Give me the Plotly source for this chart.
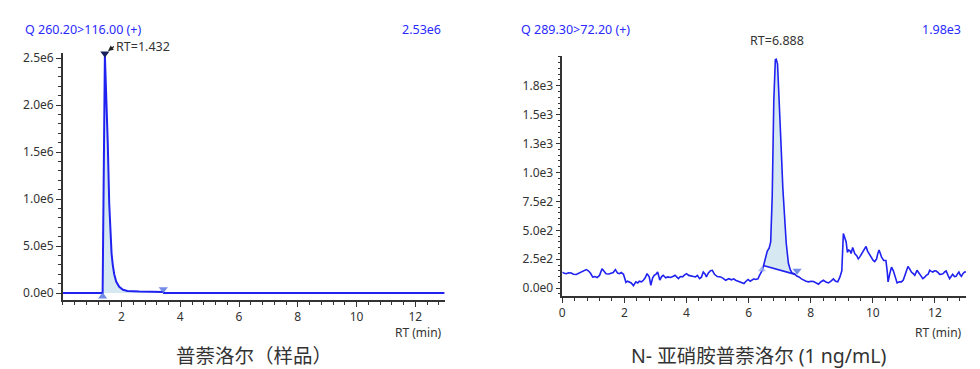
import plotly.graph_objects as go

W, H = 980, 369

# ---------------- data ----------------
# Left: 普萘洛尔 (样品), Q 260.20>116.00
left_rt = [0, 1.355, 1.432, 1.46, 1.50, 1.53, 1.58, 1.62, 1.66, 1.70, 1.75, 1.82, 1.92,
           2.05, 2.2, 2.6, 3.0, 3.42, 3.44, 13]
left_int = [0, 0, 2.53e6, 2.3e6, 1.95e6, 1.6e6, 0.95e6, 0.62e6, 0.42e6, 0.3e6, 0.2e6, 0.12e6,
            0.066e6, 0.035e6, 0.022e6, 0.015e6, 0.013e6, 0.011e6, 0, 0]
left_peak = (1.432, 2.55e6)
left_int_start = (1.355, -3.8e4)
left_int_end = (3.42, 4.0e4)
left_yticks = [0, 5e5, 1e6, 1.5e6, 2e6, 2.5e6]
left_yticktext = ["0.0e0", "5.0e5", "1.0e6", "1.5e6", "2.0e6", "2.5e6"]
left_xticks = [2, 4, 6, 8, 10, 12]

# Right: N-亚硝胺普萘洛尔 (1 ng/mL), Q 289.30>72.20
right_rt = [0.00,0.06,0.13,0.20,0.29,0.36,0.45,0.52,0.60,0.68,0.77,0.84,0.91,0.98,1.05,1.12,1.20,1.28,
            1.35,1.41,1.50,1.57,1.64,1.71,1.78,1.84,1.90,1.97,2.05,2.10,2.16,2.22,2.29,2.37,2.43,2.48,
            2.55,2.61,2.67,2.73,2.80,2.85,2.91,2.96,3.02,3.07,3.14,3.20,3.25,3.33,3.40,3.49,3.56,3.63,
            3.69,3.74,3.80,3.87,3.94,4.00,4.07,4.13,4.21,4.29,4.35,4.42,4.48,4.54,4.60,4.64,4.70,4.77,
            4.83,4.90,4.99,5.05,5.10,5.18,5.26,5.31,5.36,5.45,5.52,5.58,5.66,5.72,5.79,5.85,5.90,5.98,
            6.05,6.11,6.17,6.22,6.30,6.35,6.40,6.45,6.50,6.55,6.60,6.66,6.71,6.76,6.81,6.86,6.888,6.93,
            6.99,7.05,7.10,7.15,7.21,7.28,7.34,7.40,7.47,7.55,7.62,7.70,7.77,7.85,7.93,8.01,8.09,8.17,
            8.25,8.33,8.41,8.49,8.57,8.65,8.73,8.80,8.87,8.94,9.00,9.05,9.10,9.14,9.18,9.22,9.26,9.30,
            9.35,9.42,9.48,9.53,9.58,9.64,9.70,9.78,9.83,9.88,9.94,10.01,10.06,10.12,10.16,10.20,10.24,
            10.28,10.35,10.42,10.46,10.49,10.54,10.60,10.66,10.71,10.78,10.85,10.92,10.98,11.03,11.08,
            11.13,11.19,11.24,11.30,11.35,11.42,11.48,11.53,11.61,11.67,11.72,11.78,11.83,11.88,11.93,
            11.98,12.04,12.10,12.15,12.21,12.26,12.31,12.36,12.42,12.47,12.52,12.57,12.63,12.68,12.73,
            12.77,12.81,12.85,12.90,12.95,13.00]
right_int = [139,128,125,133,131,120,118,128,140,145,160,150,128,95,100,92,110,168,
             140,125,122,128,135,160,130,125,135,120,50,60,55,45,22,55,45,60,
             55,68,90,125,97,25,90,110,120,139,70,100,111,90,97,92,100,111,
             95,82,100,97,115,125,110,105,100,97,110,82,95,139,120,97,130,150,
             154,120,100,97,97,85,68,75,82,72,80,68,60,55,50,40,55,75,
             60,72,80,75,80,110,140,160,215,280,320,345,400,800,1620,1975,1980,1940,
             1630,1200,870,640,390,215,160,130,125,105,97,80,68,60,54,60,57,45,
             34,55,68,52,45,60,80,60,54,97,150,472,440,400,310,330,324,300,
             352,296,280,253,270,296,330,361,320,296,280,239,230,253,300,330,300,
             267,240,239,150,54,120,182,150,111,45,55,54,70,111,150,
             188,165,139,125,111,154,130,111,82,95,111,120,154,145,139,
             150,148,135,119,120,125,140,148,110,82,100,119,100,102,125,
             139,115,102,125,139,140]
right_peak = (6.888, 2010)
right_base_start = (6.47, 196)
right_base_end = (7.50, 119)
right_int_start = (6.43, 160)
right_int_end = (7.56, 150)
right_yticks = [0, 250, 500, 750, 1000, 1250, 1500, 1750]
right_yticktext = ["0.0e0", "2.5e2", "5.0e2", "7.5e2", "1.0e3", "1.3e3", "1.5e3", "1.8e3"]
right_xticks = [0, 2, 4, 6, 8, 10, 12]

# ---------------- style ----------------
BLUE = "#1f22f0"
TXT_BLUE = "#2a2aff"
FILL = "rgba(200,225,238,0.75)"
MARK = "rgba(90,120,225,0.85)"
PEAK = "#14205a"
AX = "#333333"
FONT = "Noto Sans, Noto Sans CJK SC, sans-serif"

def px(x):
    return x / W

def py(y):
    return 1 - y / H

fig = go.Figure()

# Left fill
seg_x = [x for x in left_rt if left_int_start[0] <= x <= left_int_end[0]]
seg_y = [y for x, y in zip(left_rt, left_int) if left_int_start[0] <= x <= left_int_end[0]]
fig.add_trace(go.Scatter(x=seg_x, y=seg_y, fill="tozeroy", fillcolor=FILL, mode="none",
                         xaxis="x", yaxis="y", showlegend=False, hoverinfo="skip"))
fig.add_trace(go.Scatter(x=left_rt, y=left_int, mode="lines", line=dict(color=BLUE, width=2),
                         xaxis="x", yaxis="y", showlegend=False))
fig.add_trace(go.Scatter(x=[left_int_start[0]], y=[left_int_start[1]], mode="markers",
                         marker=dict(symbol="triangle-up", size=8, color=MARK),
                         xaxis="x", yaxis="y", showlegend=False, cliponaxis=False))
fig.add_trace(go.Scatter(x=[left_int_end[0]], y=[left_int_end[1]], mode="markers",
                         marker=dict(symbol="triangle-down", size=8, color=MARK),
                         xaxis="x", yaxis="y", showlegend=False, cliponaxis=False))
fig.add_trace(go.Scatter(x=[left_peak[0]], y=[left_peak[1]], mode="markers",
                         marker=dict(symbol="triangle-down", size=8, color=PEAK),
                         xaxis="x", yaxis="y", showlegend=False, cliponaxis=False))

# Right fill polygon (trace vs. integration baseline)
rs_x = [x for x in right_rt if right_base_start[0] <= x <= right_base_end[0]]
rs_y = [y for x, y in zip(right_rt, right_int) if right_base_start[0] <= x <= right_base_end[0]]
poly_x = [right_base_start[0]] + rs_x + [right_base_end[0]]
poly_y = [right_base_start[1]] + rs_y + [right_base_end[1]]
fig.add_trace(go.Scatter(x=poly_x, y=poly_y, fill="toself", fillcolor=FILL, mode="none",
                         xaxis="x2", yaxis="y2", showlegend=False, hoverinfo="skip"))
fig.add_trace(go.Scatter(x=right_rt, y=right_int, mode="lines", line=dict(color=BLUE, width=1.6),
                         xaxis="x2", yaxis="y2", showlegend=False))
fig.add_trace(go.Scatter(x=[right_base_start[0], right_base_end[0]],
                         y=[right_base_start[1], right_base_end[1]], mode="lines",
                         line=dict(color=BLUE, width=1.6), xaxis="x2", yaxis="y2", showlegend=False))
fig.add_trace(go.Scatter(x=[right_int_start[0]], y=[right_int_start[1]], mode="markers",
                         marker=dict(symbol="triangle-up", size=7, color="rgba(150,170,235,0.8)"),
                         xaxis="x2", yaxis="y2", showlegend=False, cliponaxis=False))
fig.add_trace(go.Scatter(x=[right_int_end[0]], y=[right_int_end[1]], mode="markers",
                         marker=dict(symbol="triangle-down", size=8, color=MARK),
                         xaxis="x2", yaxis="y2", showlegend=False, cliponaxis=False))
fig.add_trace(go.Scatter(x=[right_peak[0]], y=[right_peak[1]], mode="markers",
                         marker=dict(symbol="triangle-down", size=8, color=PEAK),
                         xaxis="x2", yaxis="y2", showlegend=False, cliponaxis=False))

tickfont = dict(family=FONT, size=12, color=AX)

def xaxis_cfg(domain, ticks):
    return dict(domain=domain, range=[0, 13], showline=True, linecolor=AX, linewidth=1.5,
                showgrid=False, zeroline=False, ticks="outside", ticklen=5, tickwidth=1.2,
                tickcolor=AX, tickmode="array", tickvals=ticks, ticktext=[str(t) for t in ticks],
                tickfont=tickfont, fixedrange=True,
                minor=dict(tickmode="linear", tick0=0, dtick=0.4, ticklen=3, tickwidth=1.2,
                           tickcolor=AX, ticks="outside", showgrid=False))

def yaxis_cfg(domain, rng, ticks, text, minor):
    return dict(domain=domain, range=rng, showline=True, linecolor=AX, linewidth=1.5,
                showgrid=False, zeroline=False, ticks="outside", ticklen=5, tickwidth=1.2,
                tickcolor=AX, tickmode="array", tickvals=ticks, ticktext=text,
                tickfont=tickfont, fixedrange=True,
                minor=dict(tickmode="linear", tick0=0, dtick=minor, ticklen=3, tickwidth=1.2,
                           tickcolor=AX, ticks="outside", showgrid=False))

fig.update_layout(
    width=W, height=H, margin=dict(l=0, r=0, t=0, b=0),
    paper_bgcolor="white", plot_bgcolor="white",
    xaxis=dict(xaxis_cfg([px(60), px(443)], left_xticks), anchor="y"),
    yaxis=dict(yaxis_cfg([py(300), py(50)], [-7.35e4, 2.552e6], left_yticks, left_yticktext, 1e5),
               anchor="x"),
    xaxis2=dict(xaxis_cfg([px(561), px(966)], right_xticks), anchor="y2"),
    yaxis2=dict(yaxis_cfg([py(296), py(53)], [-68, 2005], right_yticks, right_yticktext, 50),
                anchor="x2"),
)

def ann(text, x, y, size=12, color=AX, xanchor="center"):
    fig.add_annotation(text=text, x=px(x), y=py(y), xref="paper", yref="paper",
                       showarrow=False, xanchor=xanchor, yanchor="middle",
                       font=dict(family=FONT, size=size, color=color))

ann("Q 260.20>116.00 (+)", 20, 26, 12.5, TXT_BLUE, "left")
ann("2.53e6", 441, 26, 12.5, TXT_BLUE, "right")
ann("Q 289.30>72.20 (+)", 518, 26, 12.5, TXT_BLUE, "left")
ann("1.98e3", 963, 26, 12.5, TXT_BLUE, "right")
ann("RT=6.888", 776, 37, 12.5, AX, "center")
ann("RT (min)", 417, 333, 12, AX, "center")
ann("RT (min)", 938, 333, 12, AX, "center")
ann("普萘洛尔（样品）", 252, 356, 19.5, "#333333", "center")
ann("N- 亚硝胺普萘洛尔 (1 ng/mL)", 758, 356, 19.5, "#333333", "center")

# RT label with a small arrow pointing to the left peak apex
fig.add_annotation(x=left_peak[0], y=left_peak[1], xref="x", yref="y", text="RT=1.432",
                   showarrow=True, ax=9, ay=-7, xanchor="left", yanchor="middle",
                   arrowhead=2, arrowsize=0.9, arrowwidth=1.2, arrowcolor="#222222",
                   standoff=4, font=dict(family=FONT, size=12.5, color=AX))

fig.write_html("out.html", config={"displayModeBar": False},
               post_script="document.body.style.margin='0';document.body.style.overflow='hidden';")
